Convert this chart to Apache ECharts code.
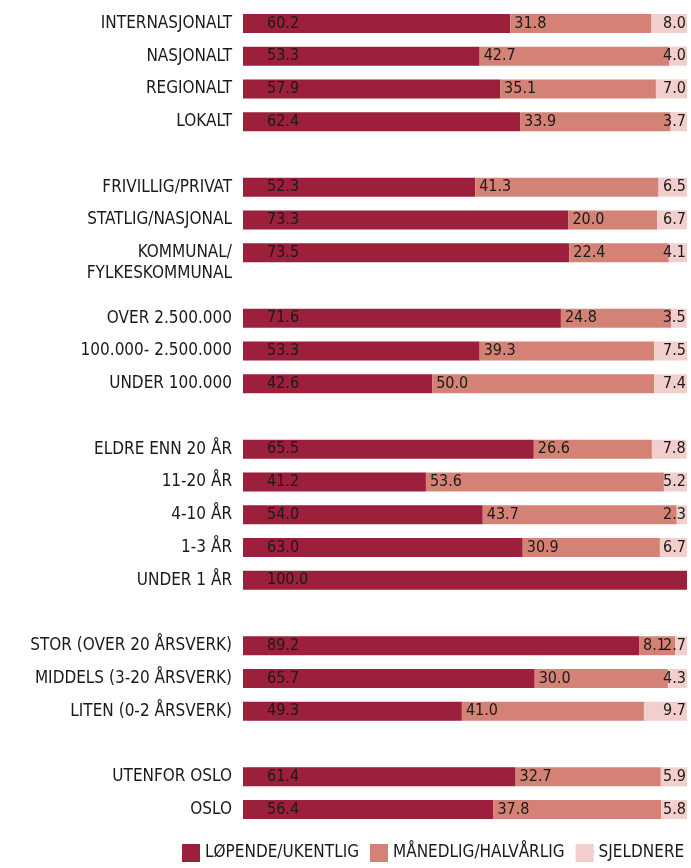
<!DOCTYPE html>
<html><head><meta charset="utf-8">
<script src="https://cdn.jsdelivr.net/npm/echarts@6/dist/echarts.min.js"></script>
<style>html,body{margin:0;padding:0;background:#fff}#c{width:691px;height:868px}</style>
</head><body><div id="c"></div>
<script>
const categories = [
  'INTERNASJONALT','NASJONALT','REGIONALT','LOKALT',' ',
  'FRIVILLIG/PRIVAT','STATLIG/NASJONAL','KOMMUNAL/\nFYLKESKOMMUNAL','  ',
  'OVER 2.500.000','100.000- 2.500.000','UNDER 100.000','   ',
  'ELDRE ENN 20 ÅR','11-20 ÅR','4-10 ÅR','1-3 ÅR','UNDER 1 ÅR','    ',
  'STOR (OVER 20 ÅRSVERK)','MIDDELS (3-20 ÅRSVERK)','LITEN (0-2 ÅRSVERK)','     ',
  'UTENFOR OSLO','OSLO'
];
const lopende  = [60.2,53.3,57.9,62.4,null, 52.3,73.3,73.5,null, 71.6,53.3,42.6,null, 65.5,41.2,54.0,63.0,100.0,null, 89.2,65.7,49.3,null, 61.4,56.4];
const manedlig = [31.8,42.7,35.1,33.9,null, 41.3,20.0,22.4,null, 24.8,39.3,50.0,null, 26.6,53.6,43.7,30.9,null,null, 8.1,30.0,41.0,null, 32.7,37.8];
const sjeldnere= [8.0,4.0,7.0,3.7,null, 6.5,6.7,4.1,null, 3.5,7.5,7.4,null, 7.8,5.2,2.3,6.7,null,null, 2.7,4.3,9.7,null, 5.9,5.8];
const seriesNames = ['LØPENDE/UKENTLIG','MÅNEDLIG/HALVÅRLIG','SJELDNERE'];

// choose a narrow font if installed, then fit sizes to the reference text widths
const ctx = document.createElement('canvas').getContext('2d');
function w(font, t){ ctx.font = font; return ctx.measureText(t || 'INTERNASJONALT').width; }
const candidates = ['Liberation Sans Narrow','Arial Narrow','DejaVu Sans Condensed','Roboto Condensed','Liberation Sans'];
let family = 'Liberation Sans';
for (const f of candidates) {
  if (w('40px "' + f + '", monospace') !== w('40px monospace')) { family = f; break; }
}
const FONT = '"' + family + '", sans-serif';
function fit(text, target){ return Math.min(18, Math.round(target / w('40px ' + FONT, text) * 40 * 2) / 2); }
const CAT_SIZE = fit('STOR (OVER 20 ÅRSVERK)', 199);
const VAL_SIZE = fit('60.2', 32);
const LEG_SIZE = fit('LØPENDE/UKENTLIG', 154);

const colors = ['#9C1F3B','#D48276','#F2CFCC'];
const fmt = p => (p.value == null ? '' : Number(p.value).toFixed(1));
const lbl = (pos, dist) => ({show:true, position:pos, distance:dist, formatter:fmt,
  color:'#1a1a1a', fontFamily:FONT, fontSize:VAL_SIZE});

const chart = echarts.init(document.getElementById('c'), null, {renderer:'canvas'});
chart.setOption({
  animation:false,
  color: colors,
  grid:{left:243, right:4, top:7, height:819, containLabel:false, outerBoundsMode:'none'},
  xAxis:{type:'value', min:0, max:100, show:false},
  yAxis:{type:'category', inverse:true, data: categories,
    axisLine:{show:false}, axisTick:{show:false}, splitLine:{show:false},
    axisLabel:{interval:0, margin:11, color:'#1a1a1a', fontFamily:FONT, fontSize:CAT_SIZE, lineHeight:21,
      formatter: v => (v.indexOf('\n') >= 0 ? '\n' + v : v)}},
  legend:{bottom:1, left:177, width:640, itemWidth:18, itemHeight:18, itemGap:11,
    icon:'rect', textStyle:{color:'#1a1a1a', fontFamily:FONT, fontSize:LEG_SIZE},
    data: seriesNames},
  series:[
    {name:seriesNames[0], type:'bar', stack:'a', barWidth:19, data:lopende, label:lbl('insideLeft',24)},
    {name:seriesNames[1], type:'bar', stack:'a', barWidth:19, data:manedlig, label:lbl('insideLeft',4)},
    {name:seriesNames[2], type:'bar', stack:'a', barWidth:19, data:sjeldnere, label:lbl('insideRight',1)}
  ]
});
</script></body></html>
